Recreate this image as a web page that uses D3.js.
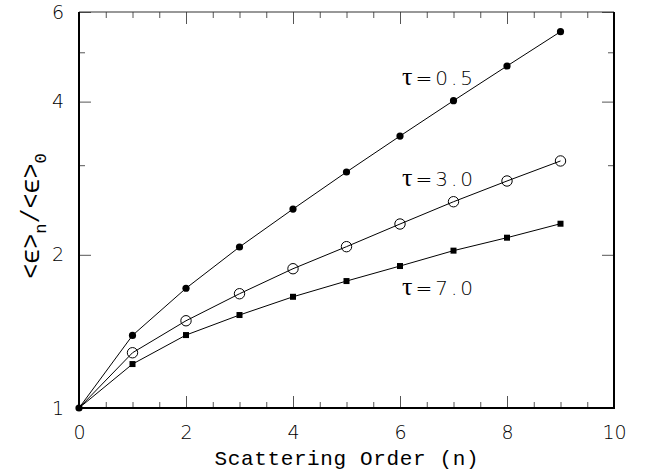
<!doctype html>
<html lang="en">
  <head>
    <script src="https://cdn.jsdelivr.net/npm/d3@7"></script>
    <style>
body { margin: 0; background: #fff; }
svg text { fill: #000; }
.tick line { stroke: #555; }
.serie { fill: none; stroke: #000; stroke-width: 1; }
    </style>
  </head>
  <body>
    <svg id="chart" width="646" height="473"></svg>
    <script type="text/javascript">
//=============================== DATA ===================================
var order	= [0, 1, 2, 3, 4, 5, 6, 7, 8, 9]
var tau05	= [1, 1.389, 1.719, 2.072, 2.460, 2.909, 3.423, 4.017, 4.699, 5.489]
var tau30	= [1, 1.284, 1.484, 1.677, 1.878, 2.075, 2.299, 2.543, 2.793, 3.058]
var tau70	= [1, 1.220, 1.391, 1.523, 1.654, 1.776, 1.901, 2.038, 2.161, 2.302]
var labels	= [['\u03c4', '=0.5'], ['\u03c4', '=3.0'], ['\u03c4', '=7.0']]
var xMajor	= [0, 2, 4, 6, 8, 10]
var yMajor	= [1, 2, 4, 6]
var yMinor	= [3, 5]
var xTitle	= 'Scattering Order (n)'

//=============================== DRAW ===================================
var svg = d3.select('#chart')
var x = d3.scaleLinear().domain([0, 10]).range([79, 614])
var y = d3.scaleLog().domain([1, 6]).range([408, 12])
var xMinor = d3.range(0.5, 10, 0.5).filter(function(v) { return v % 2 != 0 })
var numFont = '200 19px "DejaVu Sans"'

function ticks(axis, tr) {
	var g = svg.append('g').attr('transform', tr).call(axis)
	g.select('.domain').remove()
	return g
}
// ticks pointing inward on all four sides
ticks(d3.axisBottom(x).tickValues(xMajor).tickSize(-12).tickPadding(18), 'translate(0,408)')
	.selectAll('text').style('font', numFont).attr('fill', '#000')
ticks(d3.axisBottom(x).tickValues(xMinor).tickSize(-6).tickFormat(''), 'translate(0,408)')
ticks(d3.axisTop(x).tickValues(xMajor).tickSize(-12).tickFormat(''), 'translate(0,12)')
ticks(d3.axisTop(x).tickValues(xMinor).tickSize(-6).tickFormat(''), 'translate(0,12)')
ticks(d3.axisLeft(y).tickValues(yMajor).tickSize(-12).tickPadding(15).tickFormat(d3.format('d')), 'translate(79,0)')
	.selectAll('text').style('font', numFont).attr('fill', '#000')
ticks(d3.axisLeft(y).tickValues(yMinor).tickSize(-6).tickFormat(''), 'translate(79,0)')
ticks(d3.axisRight(y).tickValues(yMajor).tickSize(-12).tickFormat(''), 'translate(614,0)')
ticks(d3.axisRight(y).tickValues(yMinor).tickSize(-6).tickFormat(''), 'translate(614,0)')

// frame
svg.append('line').attr('x1', 79).attr('x2', 614).attr('y1', 12).attr('y2', 12)
	.attr('stroke', '#333').attr('stroke-width', 1.2)
svg.append('path').attr('d', 'M79,12V408H614V12')
	.attr('fill', 'none').attr('stroke', '#000').attr('stroke-width', 2)

var line = d3.line()
	.x(function(d, i) { return x(order[i]) })
	.y(function(d) { return y(d) })

;[tau05, tau30, tau70].forEach(function(s) {
	svg.append('path').classed('serie', true).datum(s).attr('d', line)
})

svg.selectAll('circle.t05').data(tau05).enter()
	.append('circle').classed('t05', true)
	.attr('cx', function(d, i) { return x(order[i]) })
	.attr('cy', function(d) { return y(d) })
	.attr('r', 3.6).attr('fill', '#000')
svg.selectAll('circle.t30').data(tau30.slice(1)).enter()
	.append('circle').classed('t30', true)
	.attr('cx', function(d, i) { return x(order[i + 1]) })
	.attr('cy', function(d) { return y(d) })
	.attr('r', 5.2).attr('fill', 'none').attr('stroke', '#000').attr('stroke-width', 1)
svg.selectAll('rect.t70').data(tau70.slice(1)).enter()
	.append('rect').classed('t70', true)
	.attr('x', function(d, i) { return x(order[i + 1]) - 3 })
	.attr('y', function(d) { return y(d) - 3 })
	.attr('width', 6).attr('height', 6).attr('fill', '#000')

// curve labels
var labY = [85, 186, 295]
labels.forEach(function(t, i) {
	var tx = svg.append('text').attr('x', 402).attr('y', labY[i])
		.attr('textLength', 71).attr('lengthAdjust', 'spacing')
		.style('font', '200 20px "DejaVu Sans"')
	tx.append('tspan').style('font', '26px "Liberation Serif"').text(t[0])
	tx.append('tspan').text(t[1])
})

// axis titles
svg.append('text').attr('x', x(5)).attr('y', 465).attr('text-anchor', 'middle')
	.attr('textLength', 264).attr('lengthAdjust', 'spacing')
	.style('font', '21px "Liberation Mono"').text(xTitle)

var yt = svg.append('text').attr('transform', 'translate(39,216) rotate(-90)')
	.attr('text-anchor', 'middle')
	.style('font', '25px "Liberation Mono"')
yt.append('tspan').text('<\u03f5>')
yt.append('tspan').attr('dy', 7).style('font-size', '17px').text('n')
yt.append('tspan').attr('dy', -7).text('/')
yt.append('tspan').text('<\u03f5>')
yt.append('tspan').attr('dy', 7).style('font-size', '17px').text('0')
    </script>
  </body>
</html>
